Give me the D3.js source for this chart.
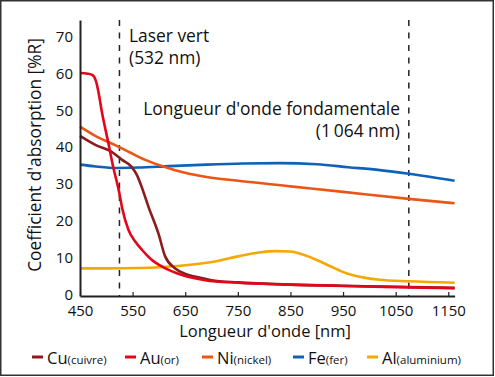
<!DOCTYPE html>
<html>
<head>
<meta charset="utf-8">
<script src="https://cdn.jsdelivr.net/npm/d3@7"></script>
<style>
  body { margin: 0; background: #fff; }
  text { font-family: "Open Sans", sans-serif; fill: #111; }
</style>
</head>
<body>
<div id="chart_wrapper"></div>
<script>
// values
const auWl = [450, 465, 474, 480, 485, 491, 504, 514, 520, 524, 530, 542, 555, 568, 585, 606, 625, 644, 688, 750, 850, 950, 1050, 1162]
const auVal = [60.6, 60.4, 60, 58.5, 55.5, 50.5, 41.5, 34.5, 31, 28.5, 24, 18, 14.8, 12.5, 10, 8, 6.7, 5.7, 4.3, 3.6, 3.1, 2.7, 2.4, 2.1]

const cuWl = [450, 480, 510, 530, 548, 558, 565, 580, 599, 612, 631, 650, 670, 700, 750, 850, 950, 1050, 1162]
const cuVal = [43.5, 41, 39.2, 37, 35.1, 32.9, 30.5, 24.3, 17, 10.7, 7.5, 6, 5.2, 4.3, 3.7, 3.1, 2.8, 2.5, 2.2]

const niWl = [450, 479, 517, 545, 574, 600, 631, 688, 750, 850, 950, 1075, 1162]
const niVal = [46, 43.5, 41, 39, 37, 35.6, 34.2, 32.4, 31.3, 29.8, 28.3, 26.4, 25.2]

const feWl = [450, 480, 520, 560, 620, 690, 760, 830, 900, 960, 1020, 1075, 1162]
const feVal = [35.7, 35.2, 34.8, 34.9, 35.3, 35.7, 36, 36.1, 35.8, 35, 34.2, 33.2, 31.3]

const alWl = [450, 500, 560, 600, 641, 704, 755, 790, 822, 850, 870, 900, 927, 956, 990, 1019, 1075, 1162]
const alVal = [7.5, 7.5, 7.6, 7.8, 8.2, 9.3, 10.9, 11.8, 12.2, 12.1, 11.4, 9.8, 8, 6.2, 5, 4.4, 4, 3.6]

const xTicks = [450, 550, 650, 750, 850, 950, 1050, 1150]
const yTicks = [0, 10, 20, 30, 40, 50, 60, 70]

// dashed laser markers (where they sit in the picture)
const markerWl = [525, 1075]

const seriesNames = ['Cu', 'Au', 'Ni', 'Fe', 'Al']
const seriesSub = ['(cuivre)', '(or)', '(nickel)', '(fer)', '(aluminium)']
const seriesColors = ['#8c1c1c', '#e3061b', '#ea5616', '#0f62b8', '#f5a800']

const W = 495, H = 377
const svg = d3.select('#chart_wrapper').append('svg')
    .attr('width', W)
    .attr('height', H)

// frame
svg.append('rect')
    .attr('x', 0.75).attr('y', 0.75)
    .attr('width', W - 2.5).attr('height', H - 2.5)
    .attr('fill', '#fff')
    .attr('stroke', '#333')
    .attr('stroke-width', 1.5)

const x = d3.scaleLinear().domain([450, 1162]).range([80, 454.6])
const y = d3.scaleLinear().domain([0, 75]).range([296, 20])

// dashed lines
svg.selectAll('.marker')
    .data(markerWl)
    .join('line')
    .attr('x1', d => x(d)).attr('x2', d => x(d))
    .attr('y1', y(75)).attr('y2', y(0))
    .attr('stroke', '#222')
    .attr('stroke-width', 1.5)
    .attr('stroke-dasharray', '6,6.5')

const line = d3.line()
    .x(d => x(d[0]))
    .y(d => y(d[1]))
    .curve(d3.curveMonotoneX)

const allSeries = [
    d3.zip(cuWl, cuVal),
    d3.zip(auWl, auVal),
    d3.zip(niWl, niVal),
    d3.zip(feWl, feVal),
    d3.zip(alWl, alVal)
]
// draw order: Fe, Ni, Al, Cu, Au
const order = [3, 2, 4, 0, 1]
svg.selectAll('.curve')
    .data(order)
    .join('path')
    .attr('d', i => line(allSeries[i]))
    .attr('fill', 'none')
    .attr('stroke', i => seriesColors[i])
    .attr('stroke-width', 2.6)
    .attr('stroke-linejoin', 'round')

// axes
const xAxis = svg.append('g')
    .attr('transform', `translate(0,${y(0)})`)
    .call(d3.axisBottom(x).tickValues(xTicks).tickFormat(d3.format('d')).tickSizeInner(-4).tickSizeOuter(0).tickPadding(8))
xAxis.select('.domain').attr('stroke', '#222').attr('stroke-width', 2)
xAxis.selectAll('.tick line').attr('stroke', '#222').attr('stroke-width', 1.2)
xAxis.selectAll('.tick text')
    .style('font-family', '"Open Sans", sans-serif')
    .style('font-size', '15px')
    .attr('fill', '#111')
    .attr('dy', '0.71em')
    .attr('y', 9)

const yAxis = svg.append('g')
    .attr('transform', `translate(${x(450)},0)`)
    .call(d3.axisLeft(y).tickValues(yTicks).tickSize(0).tickPadding(7))
yAxis.select('.domain').attr('stroke', '#222').attr('stroke-width', 2)
yAxis.selectAll('.tick text')
    .style('font-family', '"Open Sans", sans-serif')
    .style('font-size', '15px')
    .attr('fill', '#111')
    .attr('dy', '0.2em')

// axis titles
svg.append('text')
    .attr('x', 265).attr('y', 337)
    .attr('text-anchor', 'middle')
    .style('font-size', '16.5px')
    .text("Longueur d'onde [nm]")

svg.append('text')
    .attr('transform', 'translate(40.5,155) rotate(-90)')
    .attr('text-anchor', 'middle')
    .style('font-size', '17.3px')
    .text("Coefficient d'absorption [%R]")

// annotations
svg.append('text').attr('x', 129).attr('y', 42).style('font-size', '17.4px').text('Laser vert')
svg.append('text').attr('x', 129).attr('y', 64).style('font-size', '17.4px').text('(532 nm)')
svg.append('text').attr('x', 400).attr('y', 115).attr('text-anchor', 'end').style('font-size', '17.4px').text("Longueur d'onde fondamentale")
svg.append('text').attr('x', 400).attr('y', 137).attr('text-anchor', 'end').style('font-size', '17.4px').text('(1\u2009064 nm)')

// legend
const legendX = [32, 125, 202, 293, 367]
const legend = svg.selectAll('.leg')
    .data(seriesNames)
    .join('g')
    .attr('transform', (d, i) => `translate(${legendX[i]},357)`)
legend.append('line')
    .attr('x1', 0).attr('x2', 11)
    .attr('stroke', (d, i) => seriesColors[i])
    .attr('stroke-width', 3)
const lt = legend.append('text')
    .attr('x', 15).attr('y', 7)
lt.append('tspan').style('font-size', '16.5px').text(d => d)
lt.append('tspan').style('font-size', '11.5px').text((d, i) => seriesSub[i])
</script>
</body>
</html>
